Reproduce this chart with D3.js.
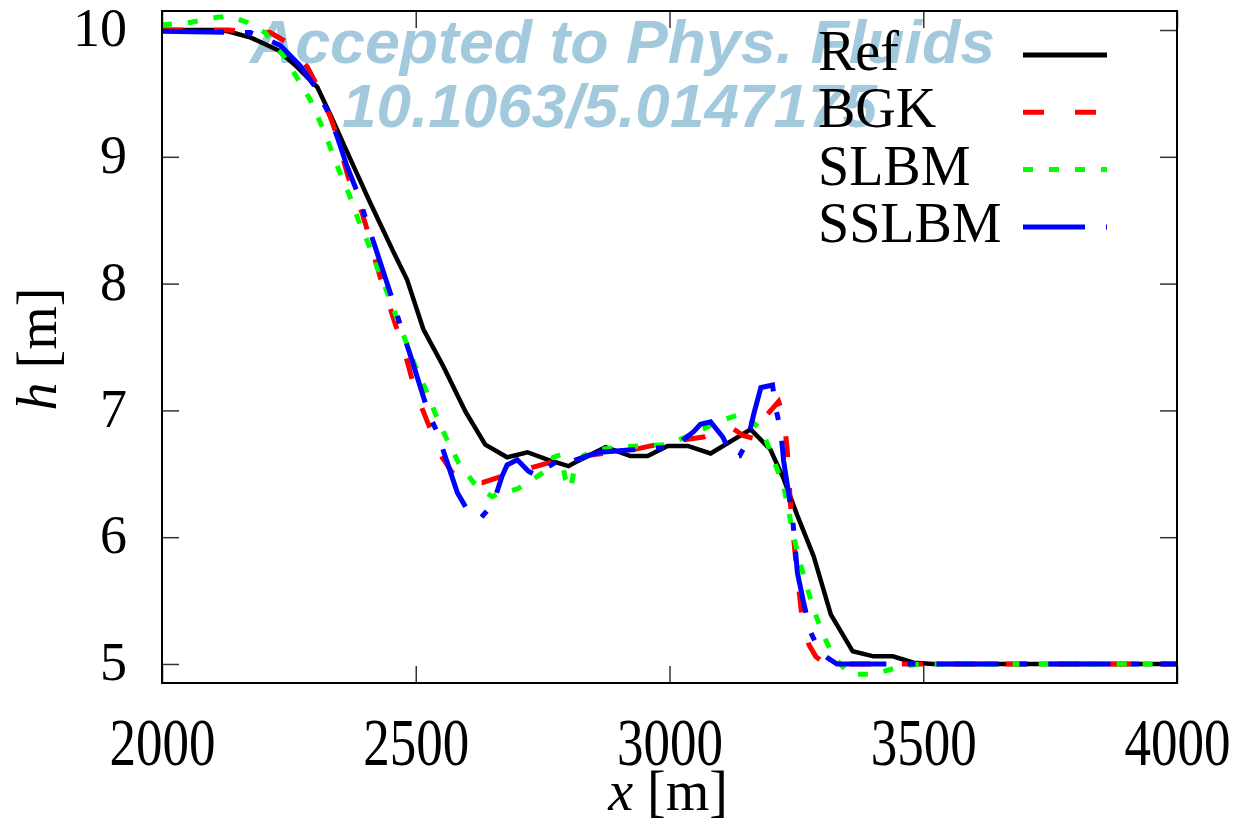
<!DOCTYPE html>
<html>
<head>
<meta charset="utf-8">
<script src="https://cdn.jsdelivr.net/npm/d3@7"></script>
<style>
  body { margin: 0; background: #fff; }
  text { font-family: "Liberation Serif", "DejaVu Serif", serif; }
</style>
</head>
<body>
<svg id="chart" width="1236" height="833"></svg>
<script>
const xTicks = [2000, 2500, 3000, 3500, 4000];
const yTicks = [5, 6, 7, 8, 9, 10];
const seriesNames = ["Ref", "BGK", "SLBM", "SSLBM"];
const seriesColors = ["#000000", "#ff0000", "#00ff00", "#0000ff"];
const seriesDash = [null, "21,31", "10,16", "62,21,8,21"];

const refData = [
  [2000, 10.00], [2100, 10.00], [2130, 9.99], [2175, 9.94], [2229, 9.84], [2266, 9.71],
  [2306, 9.55], [2332, 9.33], [2360, 9.08], [2385, 8.86], [2410, 8.64], [2456, 8.25],
  [2483, 8.03], [2515, 7.64], [2554, 7.35], [2598, 6.99], [2637, 6.73], [2680, 6.63],
  [2720, 6.67], [2761, 6.61], [2801, 6.56], [2819, 6.60], [2874, 6.71], [2923, 6.64],
  [2957, 6.64], [2996, 6.72], [3036, 6.72], [3081, 6.66], [3160, 6.85], [3199, 6.69],
  [3225, 6.46], [3252, 6.17], [3284, 5.85], [3318, 5.39], [3361, 5.10], [3402, 5.06],
  [3440, 5.06], [3481, 5.01], [3520, 5.00], [4000, 5.00]
];

const bgkData = [
  [2000, 10.00], [2130, 10.00], [2175, 9.99], [2213, 9.98], [2243, 9.91], [2286, 9.71],
  [2302, 9.59], [2331, 9.32], [2341, 9.21], [2367, 8.84], [2394, 8.56], [2404, 8.43],
  [2420, 8.19], [2430, 8.05], [2450, 7.80], [2463, 7.64], [2483, 7.39], [2493, 7.24],
  [2513, 7.01], [2529, 6.85], [2552, 6.63], [2572, 6.51], [2600, 6.43], [2631, 6.43],
  [2670, 6.48], [2730, 6.55], [2765, 6.59], [2791, 6.61], [2830, 6.64], [2929, 6.69],
  [2963, 6.72], [3032, 6.77], [3067, 6.79], [3120, 6.87], [3146, 6.80], [3165, 6.78],
  [3180, 6.81], [3193, 6.97], [3215, 7.07], [3225, 6.95], [3232, 6.69], [3238, 6.28],
  [3248, 5.85], [3262, 5.33], [3275, 5.15], [3288, 5.06], [3300, 5.02], [3320, 5.00],
  [4000, 5.00]
];

const slbmData = [
  [2000, 10.04], [2055, 10.06], [2108, 10.10], [2134, 10.11], [2168, 10.06], [2203, 9.98],
  [2239, 9.80], [2262, 9.65], [2292, 9.45], [2312, 9.27], [2331, 9.08], [2351, 8.87],
  [2371, 8.68], [2387, 8.50], [2406, 8.32], [2424, 8.13], [2440, 7.97], [2460, 7.76],
  [2479, 7.56], [2499, 7.35], [2519, 7.17], [2538, 6.98], [2558, 6.80], [2584, 6.59],
  [2614, 6.43], [2635, 6.36], [2651, 6.32], [2661, 6.34], [2700, 6.38], [2732, 6.46],
  [2755, 6.52], [2771, 6.63], [2785, 6.65], [2795, 6.46], [2805, 6.38], [2815, 6.59],
  [2844, 6.68], [2897, 6.71], [2996, 6.73], [3055, 6.83], [3094, 6.91], [3140, 6.97],
  [3154, 6.94], [3183, 6.84], [3205, 6.61], [3225, 6.40], [3242, 6.06], [3255, 5.83],
  [3272, 5.59], [3284, 5.43], [3298, 5.28], [3321, 5.07], [3354, 4.92], [3403, 4.92],
  [3456, 4.98], [3495, 5.00], [4000, 5.00]
];

const sslbmData = [
  [2000, 9.99], [2174, 9.98], [2233, 9.88], [2272, 9.72], [2302, 9.55], [2325, 9.37],
  [2345, 9.16], [2365, 8.92], [2387, 8.70], [2400, 8.53], [2420, 8.29], [2456, 7.85],
  [2469, 7.68], [2489, 7.44], [2525, 6.98], [2542, 6.83], [2562, 6.59], [2582, 6.35],
  [2601, 6.22], [2614, 6.17], [2628, 6.15], [2647, 6.24], [2657, 6.32], [2670, 6.48],
  [2680, 6.57], [2700, 6.61], [2722, 6.52], [2742, 6.48], [2755, 6.54], [2791, 6.63],
  [2808, 6.60], [2844, 6.65], [2864, 6.67], [2957, 6.70], [3008, 6.71], [3047, 6.83],
  [3061, 6.89], [3081, 6.91], [3105, 6.79], [3124, 6.63], [3138, 6.64], [3150, 6.73],
  [3156, 6.80], [3166, 6.97], [3180, 7.18], [3203, 7.20], [3209, 7.02], [3219, 6.85],
  [3225, 6.60], [3243, 6.13], [3252, 5.72], [3264, 5.49], [3278, 5.25], [3298, 5.09],
  [3311, 5.05], [3330, 5.00], [4000, 5.00]
];

const allSeries = [refData, bgkData, slbmData, sslbmData];

const svg = d3.select("#chart");
const m = {top: 11, left: 162, right: 59, bottom: 150};
const W = +svg.attr("width"), H = +svg.attr("height");
const innerW = W - m.left - m.right, innerH = H - m.top - m.bottom;

svg.append("rect").attr("width", W).attr("height", H).attr("fill", "#fff");

const x = d3.scaleLinear().domain([2000, 4000]).range([0, innerW]);
const y = d3.scaleLinear().domain([4.85, 10.15]).range([innerH, 0]);

// watermark sits under everything
const wm = svg.append("g")
    .style("font-weight", "bold")
    .style("font-style", "italic")
    .attr("fill", "#a3c9dd");
wm.append("text").attr("x", 250).attr("y", 63)
    .style("font-family", "'Liberation Sans', Arial, sans-serif")
    .attr("font-size", 62).attr("textLength", 745).attr("lengthAdjust", "spacingAndGlyphs")
    .text("Accepted to Phys. Fluids");
wm.append("text").attr("x", 342).attr("y", 127)
    .style("font-family", "'Liberation Sans', Arial, sans-serif")
    .attr("font-size", 62).attr("textLength", 535).attr("lengthAdjust", "spacingAndGlyphs")
    .text("10.1063/5.0147175");

const g = svg.append("g").attr("transform", `translate(${m.left},${m.top})`);

g.append("clipPath").attr("id", "clip")
  .append("rect").attr("width", innerW).attr("height", innerH);

const tickStyle = sel => {
  sel.attr("font-family", "Liberation Serif");
  sel.select(".domain").remove();
  sel.selectAll(".tick line").attr("stroke", "#333").attr("stroke-width", 1.5);
};

g.append("g")
    .attr("transform", `translate(0,${innerH})`)
    .call(d3.axisBottom(x).tickValues(xTicks).tickSize(-17).tickFormat(d3.format("d")))
    .call(tickStyle)
    .call(s => s.selectAll("text")
        .attr("y", null).attr("dy", null)
        .attr("transform", "translate(0,82) scale(1,1.28)")
        .attr("font-size", 53).attr("fill", "#000"));

g.append("g")
    .call(d3.axisTop(x).tickValues(xTicks).tickSize(-17).tickFormat(""))
    .call(tickStyle);

g.append("g")
    .call(d3.axisLeft(y).tickValues(yTicks).tickSize(-17).tickPadding(35).tickFormat(d3.format("d")))
    .call(tickStyle)
    .call(s => s.selectAll("text")
        .attr("dy", "0.29em")
        .attr("font-size", 54).attr("fill", "#000"));

g.append("g")
    .attr("transform", `translate(${innerW},0)`)
    .call(d3.axisRight(y).tickValues(yTicks).tickSize(-17).tickFormat(""))
    .call(tickStyle);

const line = d3.line().x(d => x(d[0])).y(d => y(d[1]));

g.append("g").attr("clip-path", "url(#clip)")
  .selectAll("path").data(allSeries).enter().append("path")
    .attr("d", line)
    .attr("fill", "none")
    .attr("stroke", (d, i) => seriesColors[i])
    .attr("stroke-width", (d, i) => i === 0 ? 4.5 : 5)
    .attr("stroke-dasharray", (d, i) => seriesDash[i])
    .attr("stroke-linejoin", "miter");

g.append("rect")
    .attr("width", innerW).attr("height", innerH)
    .attr("fill", "none").attr("stroke", "#000").attr("stroke-width", 2);

const legend = svg.append("g");
seriesNames.forEach((name, i) => {
  const by = 70 + i * 57.3;
  legend.append("text")
      .attr("x", 818).attr("y", by)
      .attr("font-size", 56).attr("fill", "#000")
      .text(name);
  legend.append("line")
      .attr("x1", 1023).attr("x2", 1107)
      .attr("y1", by - 15).attr("y2", by - 15)
      .attr("stroke", seriesColors[i])
      .attr("stroke-width", 5)
      .attr("stroke-dasharray", seriesDash[i]);
});

const xl = svg.append("text")
    .attr("x", 668).attr("y", 810)
    .attr("text-anchor", "middle")
    .attr("font-size", 56);
xl.append("tspan").style("font-style", "italic").text("x");
xl.append("tspan").text(" [m]");

const yl = svg.append("text")
    .attr("transform", "translate(56,349) rotate(-90)")
    .attr("text-anchor", "middle")
    .attr("font-size", 56);
yl.append("tspan").style("font-style", "italic").text("h");
yl.append("tspan").text(" [m]");
</script>
</body>
</html>
